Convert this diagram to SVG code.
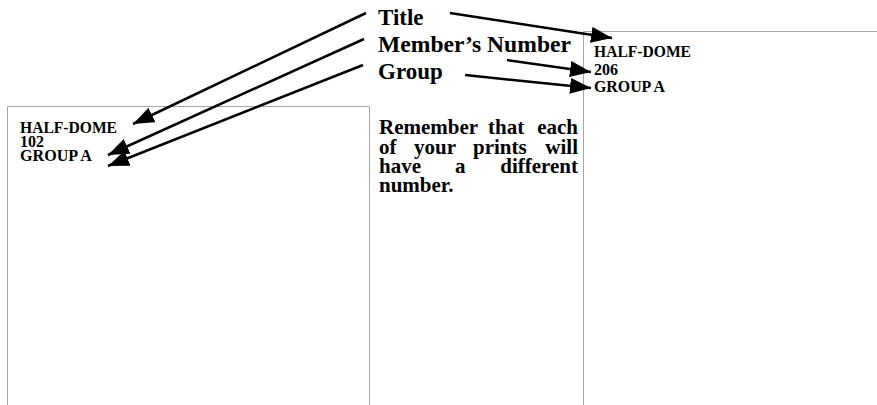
<svg xmlns="http://www.w3.org/2000/svg" width="877" height="405" viewBox="0 0 877 405">
<style>
.frame{fill:none;stroke:#a6a6a6;stroke-width:1}
.big{font-family:"Liberation Serif","Times New Roman",serif;font-weight:bold;font-size:23px;fill:#000}
.small{font-family:"Liberation Serif","Times New Roman",serif;font-weight:bold;font-size:16px;fill:#000}
.para{font-family:"Liberation Serif","Times New Roman",serif;font-weight:bold;font-size:21px;fill:#000}
.end{text-anchor:end}
.arrow{fill:none;stroke:#000;stroke-width:2.5;marker-end:url(#head)}
</style>
<defs>
<marker id="head" markerUnits="userSpaceOnUse" markerWidth="24" markerHeight="18" viewBox="0 0 24 18" refX="21" refY="8" orient="auto">
<path d="M0,0 L21,8 L0,16 Z" fill="#000"/>
</marker>
</defs>
<rect width="877" height="405" fill="#fff"/>
<g id="left-print">
<path class="frame" d="M7.5,406 V106.5 H369.5 V406"/>
<text class="small" x="20" y="133" textLength="97" lengthAdjust="spacingAndGlyphs">HALF-DOME</text>
<text class="small" x="20" y="147">102</text>
<text class="small" x="20" y="161" textLength="72" lengthAdjust="spacingAndGlyphs">GROUP A</text>
</g>
<g id="right-print">
<path class="frame" d="M583.5,406 V31.5 H878"/>
<text class="small" x="594" y="57" textLength="97" lengthAdjust="spacingAndGlyphs">HALF-DOME</text>
<text class="small" x="594" y="75">206</text>
<text class="small" x="594" y="92" textLength="71" lengthAdjust="spacingAndGlyphs">GROUP A</text>
</g>
<g id="labels">
<text class="big" x="378" y="25">Title</text>
<text class="big" x="378" y="52" textLength="193" lengthAdjust="spacingAndGlyphs">Member’s Number</text>
<text class="big" x="378" y="79">Group</text>
</g>
<g id="note">
<text class="para" y="134"><tspan x="379">Remember</tspan><tspan x="488">that</tspan><tspan class="end" x="578">each</tspan></text>
<text class="para" y="154"><tspan x="379">of</tspan><tspan x="414">your</tspan><tspan x="473">prints</tspan><tspan class="end" x="578">will</tspan></text>
<text class="para" y="173"><tspan x="379">have</tspan><tspan x="455">a</tspan><tspan class="end" x="578">different</tspan></text>
<text class="para" x="379" y="192">number.</text>
</g>
<g id="connectors">
<path class="arrow" d="M366,13 L133,124"/>
<path class="arrow" d="M364,39 L108,155"/>
<path class="arrow" d="M363,65 L108,166"/>
<path class="arrow" d="M450,13 L612,38"/>
<path class="arrow" d="M507,60 L591,72"/>
<path class="arrow" d="M465,75 L591,88"/>
</g>
</svg>
